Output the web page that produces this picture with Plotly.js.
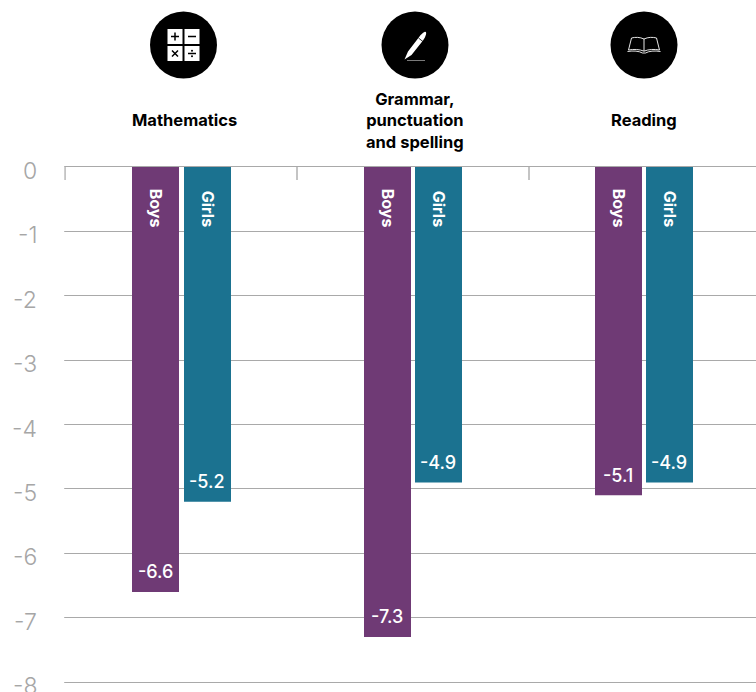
<!DOCTYPE html>
<html>
<head>
<meta charset="utf-8">
<script src="https://cdn.plot.ly/plotly-3.0.1.min.js"></script>
<style>html,body{margin:0;padding:0;background:#fff;overflow:hidden}</style>
</head>
<body>
<div id="chart" style="width:756px;height:692px"></div>
<script>
// Change in score by subject, split by boys and girls
const subjects = ["Mathematics", "Grammar,<br>punctuation<br>and spelling", "Reading"];
const boysValues = [-6.6, -7.3, -5.1];
const girlsValues = [-5.2, -4.9, -4.9];
const yTicks = [0, -1, -2, -3, -4, -5, -6, -7, -8];
const boysName = "Boys";
const girlsName = "Girls";

const W = 756, H = 692;
// The plot area runs 2px past the first tick and the last gridline so both stay drawn
const M = {l: 63, r: 0, t: 167, b: 8};
const plotW = W - M.l - M.r, plotH = H - M.t - M.b;
const CAT_PX = 232, UNIT_PX = 64.375;
const paperX = px => (px - M.l) / plotW;
const paperY = py => 1 - (py - M.t) / plotH;

const PURPLE = "#6f3a75", TEAL = "#1b7290", GREY = "#a9a9a9", FONT = "Inter, sans-serif";

// White glyphs on a black disc, one for each subject
const disc = inner => "data:image/svg+xml;utf8," + encodeURIComponent(
  `<svg xmlns="http://www.w3.org/2000/svg" viewBox="0 0 68 68" width="68" height="68">` +
  `<circle cx="34" cy="34" r="33.5" fill="#000"/>${inner}</svg>`);

const mathsIcon = disc(
  `<g fill="#fff"><rect x="18" y="18" width="15" height="15"/><rect x="35" y="18" width="15" height="15"/>` +
  `<rect x="18" y="35" width="15" height="15"/><rect x="35" y="35" width="15" height="15"/></g>` +
  `<g stroke="#000" stroke-width="1.5" fill="none"><path d="M21.5 25.5h8M25.5 21.5v8M38.5 25.5h8"/>` +
  `<path d="M22.5 39.5l6 6M28.5 39.5l-6 6M38.5 42.5h8"/></g>` +
  `<circle cx="42.5" cy="39.8" r="1" fill="#000"/><circle cx="42.5" cy="45.2" r="1" fill="#000"/>`);

const penIcon = disc(
  `<path d="M23.500 48.500l3.500-8 11.500-15c1.500-2 3-3.500 5-4.500 1.500-.5 2 .5 1.500 2.500-.5 2-1.500 4-3 6l-11.500 14.500z" fill="#fff"/>` +
  `<path d="M37.500 27l5 4" stroke="#000" stroke-width=".8"/><path d="M26 49.500h18" stroke="#ccc" stroke-width=".6"/>`);

const bookIcon = disc(
  `<g fill="none" stroke="#fff" stroke-width=".9"><path d="M34 28c-4-2-9-2-12.500-1l-3 12c5-1 11-.8 15.500 1.200 4.500-2 10.500-2.200 15.500-1.200l-3-12c-3.500-1-8.500-1-12.500 1z"/>` +
  `<path d="M34 28v12M17.500 40.500c6-1 11.500-.5 15 1.500h3c3.500-2 9-2.500 15-1.500"/></g>`);

const icons = [[183.5, mathsIcon], [415, penIcon], [644, bookIcon]].map(([cx, source]) => ({
  source, xref: "paper", yref: "paper",
  x: paperX(cx), y: paperY(45), sizex: 68 / plotW, sizey: 68 / plotH,
  xanchor: "center", yanchor: "middle", sizing: "contain", layer: "above"
}));

// Horizontal placement of the headings and bars relative to each group centre, in px
const headingShift = [3.5, 2, -1.5];
const barShift = [[-25.5, 26.5], [-25.5, 25.5], [-26.5, 24.5]];
const BAR_W = 47 / CAT_PX;

const headings = subjects.map((s, i) => ({
  x: i, xref: "x", y: paperY(120), yref: "paper", xshift: headingShift[i],
  text: s, showarrow: false, align: "center", xanchor: "center", yanchor: "middle",
  font: {family: FONT, size: 16.5, weight: 700, color: "#000"}
}));

// Value-axis labels hang just below their gridlines
const axisLabels = yTicks.map(t => ({
  x: paperX(39), xref: "paper", y: t, yref: "y", yshift: -4,
  text: String(t), showarrow: false, xanchor: "right", yanchor: "middle",
  font: {family: FONT, size: 23, weight: 300, color: "#a6a6a6"}
}));

const barNotes = [];
[[boysValues, boysName, 0], [girlsValues, girlsName, 1]].forEach(([values, name, side]) => {
  values.forEach((v, i) => {
    barNotes.push({
      x: i, xref: "x", y: -0.64, yref: "y", xshift: barShift[i][side],
      text: name, textangle: 90, showarrow: false, xanchor: "center", yanchor: "middle",
      font: {family: FONT, size: 16, weight: 700, color: "#fff"}
    });
    barNotes.push({
      x: i, xref: "x", y: v, yref: "y", xshift: barShift[i][side] - 0.5, yshift: 20,
      text: v.toFixed(1), showarrow: false, xanchor: "center", yanchor: "middle",
      font: {family: FONT, size: 18, weight: 500, color: "#fff"}
    });
  });
});

const barTrace = (name, values, side, color) => ({
  type: "bar", name, x: subjects, y: values, marker: {color}, hoverinfo: "skip",
  width: BAR_W, offset: barShift.map(s => s[side] / CAT_PX - BAR_W / 2)
});

const traces = [
  barTrace(boysName, boysValues, 0, PURPLE),
  barTrace(girlsName, girlsValues, 1, TEAL)
];

const layout = {
  width: W, height: H, margin: M, showlegend: false,
  paper_bgcolor: "#fff", plot_bgcolor: "#fff",
  barmode: "overlay",
  font: {family: FONT},
  xaxis: {
    type: "category", range: [-0.5 - 2 / CAT_PX, -0.5 + plotW / CAT_PX - 2 / CAT_PX], side: "top",
    showticklabels: false, showgrid: false, zeroline: false,
    ticks: "inside", ticklen: 13, tickwidth: 1.5, tickcolor: "#c4c4c4", tickson: "boundaries",
    showline: true, linecolor: GREY, linewidth: 1, fixedrange: true
  },
  yaxis: {
    range: [-8 - 2 / UNIT_PX, 0], tickvals: yTicks, showticklabels: false,
    showgrid: true, gridcolor: GREY, gridwidth: 1, zeroline: false, showline: false,
    ticks: "", fixedrange: true
  },
  images: icons,
  // White strip trimming the lines back to where the first tick sits
  shapes: [{
    type: "rect", layer: "above", xref: "paper", yref: "paper", line: {width: 0},
    x0: paperX(42), x1: paperX(64.2), y0: -0.02, y1: 1.01, fillcolor: "#fff"
  }],
  annotations: headings.concat(axisLabels, barNotes)
};

Plotly.newPlot("chart", traces, layout, {displayModeBar: false, staticPlot: true});
</script>
</body>
</html>
